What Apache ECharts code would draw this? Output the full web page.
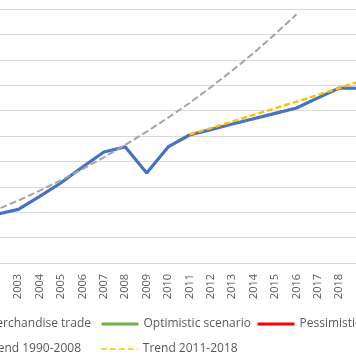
<!DOCTYPE html>
<html><head><meta charset="utf-8">
<script src="https://cdn.jsdelivr.net/npm/echarts@6/dist/echarts.min.js"></script>
<style>
html,body{margin:0;padding:0;width:356px;height:364px;overflow:hidden;background:#fff;}
#c{position:absolute;left:-100px;top:0;width:600px;height:364px;}
</style></head>
<body><div id="c"></div>
<script>
const years = ['2000','2001','2002','2003','2004','2005','2006','2007','2008','2009','2010','2011','2012','2013','2014','2015','2016','2017','2018','2019','2020','2021','2022'];
const merchandiseTrade = [57.4, 57.2, 59.2, 61.1, 66.2, 71.6, 77.8, 83.7, 85.7, 75.4, 85.7, 90.4, 92.5, 94.7, 96.8, 98.9, 101.0, 105.0, 108.9, 108.8, null, null, null];
const optimistic = [null, null, null, null, null, null, null, null, null, null, null, null, null, null, null, null, null, null, null, 108.8, 94.5, 114.0, 118.0];
const pessimistic = [null, null, null, null, null, null, null, null, null, null, null, null, null, null, null, null, null, null, null, 108.8, 74.0, 90.0, 96.0];
const trend1990_2008 = [54.3, 57.5, 61.0, 64.6, 68.5, 72.6, 77.0, 81.6, 86.5, 91.7, 97.2, 103.0, 109.2, 115.8, 122.7, 130.1, 137.9, null, null, null, null, null, null];
const trend2011_2018 = [null, null, null, null, null, null, null, null, null, null, null, 90.6, 93.1, 95.7, 98.3, 100.9, 103.5, 106.2, 108.9, 111.7, 114.5, 117.4, 120.4];
const yTicks = {min: 40, max: 140, interval: 10};

const FONT = 'Open Sans';
const TXT = '#595959';
const chart = echarts.init(document.getElementById('c'), null, {renderer: 'canvas'});
function lg(name, pos, lw) {
  return Object.assign({
    data: [name], padding: 0, itemWidth: 37, itemHeight: 12, itemGap: 0,
    itemStyle: {opacity: 0},
    lineStyle: {width: lw},
    textStyle: {fontFamily: FONT, fontSize: 12, color: TXT},
    selectedMode: false
  }, pos);
}
chart.setOption({
  animation: false,
  legend: [
    lg('Merchandise trade', {right: 409, top: 318}, 3),
    lg('Optimistic scenario', {left: 200, top: 318}, 3),
    lg('Pessimistic scenario', {left: 356, top: 318}, 3),
    lg('Trend 1990-2008', {right: 419, top: 343}, 1.6),
    lg('Trend 2011-2018', {left: 200, top: 343}, 1.6)
  ],
  grid: {left: 43.4, right: 64.4, top: 9, bottom: 101, containLabel: false, outerBoundsMode: 'none'},
  xAxis: {
    type: 'category', data: years, boundaryGap: true,
    axisLine: {lineStyle: {color: '#D9D9D9', width: 1}},
    axisTick: {show: false},
    axisLabel: {rotate: 90, margin: 11, fontFamily: FONT, fontSize: 11, color: TXT, interval: 0}
  },
  yAxis: {
    type: 'value', min: yTicks.min, max: yTicks.max, interval: yTicks.interval,
    axisLine: {show: false}, axisTick: {show: false},
    axisLabel: {fontFamily: FONT, fontSize: 11, color: TXT},
    splitLine: {lineStyle: {color: '#D9D9D9', width: 1}}
  },
  series: [
    {name: 'Merchandise trade', type: 'line', data: merchandiseTrade, symbol: 'none',
     lineStyle: {color: '#4472C4', width: 3.2}, itemStyle: {color: '#4472C4'}},
    {name: 'Optimistic scenario', type: 'line', data: optimistic, symbol: 'none',
     lineStyle: {color: '#70AD47', width: 3}, itemStyle: {color: '#70AD47'}},
    {name: 'Pessimistic scenario', type: 'line', data: pessimistic, symbol: 'none',
     lineStyle: {color: '#FF0000', width: 3}, itemStyle: {color: '#FF0000'}},
    {name: 'Trend 1990-2008', type: 'line', data: trend1990_2008, symbol: 'none',
     lineStyle: {color: '#A5A5A5', width: 2, type: [7, 3]}, itemStyle: {color: '#A5A5A5'}},
    {name: 'Trend 2011-2018', type: 'line', data: trend2011_2018, symbol: 'none',
     lineStyle: {color: '#FFC000', width: 2.4, type: [6, 3]}, itemStyle: {color: '#FFC000'}}
  ]
});
</script></body></html>
